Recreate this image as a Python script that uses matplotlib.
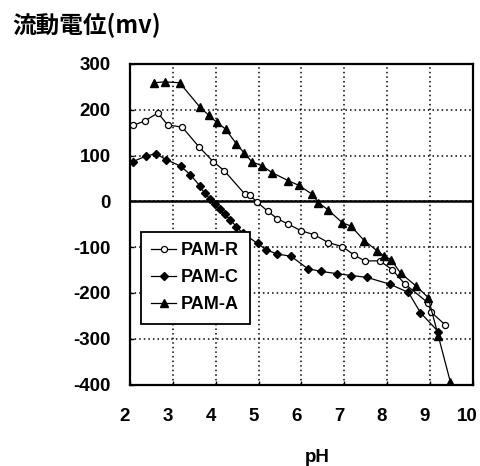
import matplotlib
matplotlib.use("Agg")
import matplotlib.pyplot as plt
import matplotlib.transforms as mtransforms
from matplotlib import font_manager

plt.rcParams['axes.unicode_minus'] = False

names = {f.name for f in font_manager.fontManager.ttflist}
narrow = 'Liberation Sans Narrow' if 'Liberation Sans Narrow' in names else 'Liberation Sans'
LAT = ['Liberation Sans', 'DejaVu Sans']
CJK = ['Noto Sans CJK JP', 'Liberation Sans', 'DejaVu Sans']

# ---- data ----
r_x = [2.08, 2.35, 2.65, 2.88, 3.22, 3.62, 3.94, 4.20, 4.68, 4.80, 4.97, 5.21, 5.44,
       5.70, 5.99, 6.30, 6.63, 6.96, 7.23, 7.48, 7.83, 8.12, 8.41, 8.95, 9.03, 9.35]
r_y = [166, 176, 193, 167, 162, 118, 87, 67, 16, 13, -2, -21, -38,
       -50, -64, -73, -90, -99, -117, -130, -130, -149, -180, -221, -242, -269]

c_x = [2.07, 2.38, 2.60, 2.85, 3.18, 3.41, 3.63, 3.74, 3.86, 3.98, 4.09, 4.21, 4.34,
       4.48, 4.64, 4.98, 5.18, 5.44, 5.76, 6.15, 6.46, 6.84, 7.17, 7.53, 8.07, 8.50,
       8.78, 9.20]
c_y = [87, 99, 104, 91, 77, 58, 34, 18, 6, -5, -17, -28, -40,
       -55, -70, -92, -106, -115, -120, -147, -153, -158, -162, -166, -181, -199,
       -243, -285]

a_x = [2.56, 2.81, 3.16, 3.63, 3.84, 4.02, 4.23, 4.48, 4.67, 4.85, 5.08, 5.31, 5.70,
       5.94, 6.26, 6.40, 6.63, 6.96, 7.16, 7.47, 7.77, 7.93, 8.09, 8.32, 8.68, 8.96,
       9.20, 9.48]
a_y = [259, 261, 259, 206, 188, 173, 158, 126, 105, 86, 78, 63, 45,
       35, 15, -3, -19, -47, -54, -86, -108, -119, -127, -157, -185, -210,
       -295, -395]

labels = ['PAM-R', 'PAM-C', 'PAM-A']
x_ticks = [2, 3, 4, 5, 6, 7, 8, 9, 10]
y_ticks = [-400, -300, -200, -100, 0, 100, 200, 300]

fig = plt.figure(figsize=(4.8, 4.66), dpi=100)
ax = fig.add_axes([130/480, 1-384.5/466, 342.7/480, 320.5/466])

ax.set_xlim(2, 10)
ax.set_ylim(-400, 300)
ax.set_xticks(x_ticks)
ax.set_yticks(y_ticks)
ax.grid(True, color='black', linestyle=(0, (1, 2)), linewidth=1.1)
ax.axhline(0, color='black', linewidth=1.8, zorder=2)

ax.plot(r_x, r_y, color='black', lw=0.9, marker='o', ms=4.4, mfc='white',
        mec='black', mew=0.9, label=labels[0], zorder=3)
ax.plot(c_x, c_y, color='black', lw=0.9, marker='D', ms=3.7, mfc='black',
        mec='black', label=labels[1], zorder=3)
ax.plot(a_x, a_y, color='black', lw=0.9, marker='^', ms=5.2, mfc='black',
        mec='black', label=labels[2], zorder=3)

for s in ax.spines.values():
    s.set_linewidth(1.6)
ax.tick_params(direction='in', length=3, width=1)
ax.tick_params(axis='y', pad=14)
ax.tick_params(axis='x', pad=17)
shift = mtransforms.ScaledTranslation(-5/100, 0, fig.dpi_scale_trans)
for lab in ax.get_xticklabels() + ax.get_yticklabels():
    lab.set_fontfamily(LAT)
    lab.set_fontweight('bold')
    lab.set_fontsize(13.5)
for lab in ax.get_xticklabels():
    lab.set_transform(lab.get_transform() + shift)

leg = ax.legend(loc='upper left', bbox_to_anchor=(0.031, 0.477), borderaxespad=0,
                fancybox=False, frameon=True, edgecolor='black', framealpha=1,
                handlelength=1.35, labelspacing=0.55, handletextpad=0.3,
                borderpad=0.6, prop={'family': [narrow, 'DejaVu Sans'], 'weight': 'bold', 'size': 13})
leg.get_frame().set_linewidth(1.3)

fig.text(12/480, 1-25/466, '流動電位(mv)', family=CJK, weight='bold', fontsize=17,
         ha='left', va='center')
fig.text(317/480, 1-457/466, 'pH', family=LAT, weight='bold', fontsize=13.5,
         ha='center', va='center')

fig.savefig('out.png', dpi=100)
